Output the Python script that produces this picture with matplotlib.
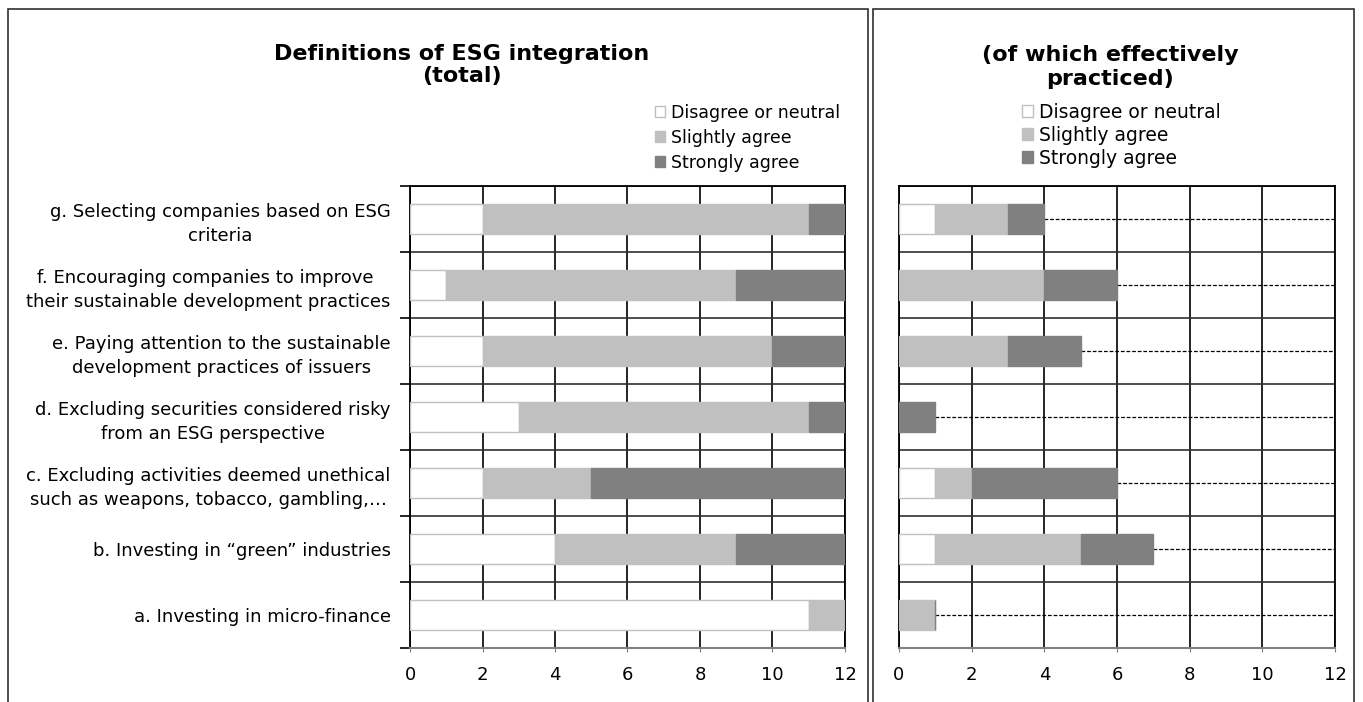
import matplotlib.pyplot as plt
from matplotlib.patches import Rectangle, Patch

# =====================================================
#   data (bottom to top: a .. g)
# =====================================================

categories = [
    "a. Investing in micro-finance",
    "b. Investing in \u201cgreen\u201d industries",
    "c. Excluding activities deemed unethical\nsuch as weapons, tobacco, gambling,\u2026",
    "d. Excluding securities considered risky\nfrom an ESG perspective",
    "e. Paying attention to the sustainable\ndevelopment practices of issuers",
    "f. Encouraging companies to improve \ntheir sustainable development practices",
    "g. Selecting companies based on ESG\ncriteria",
]

series = ["Disagree or neutral", "Slightly agree", "Strongly agree"]

total_disagree = [11, 4, 2, 3, 2, 1, 2]
total_slightly = [1, 5, 3, 8, 8, 8, 9]
total_strongly = [0, 3, 7, 1, 2, 3, 1]

prac_disagree = [0, 1, 1, 0, 0, 0, 1]
prac_slightly = [1, 4, 1, 0, 3, 4, 2]
prac_strongly = [0, 2, 4, 1, 2, 2, 1]

x_ticks = [0, 2, 4, 6, 8, 10, 12]

fill_colors = ["white", "#c0c0c0", "#808080"]
edge_colors = ["#c0c0c0", "#c0c0c0", "#808080"]

W, H = 1363, 702
fig = plt.figure(figsize=(W / 100, H / 100), dpi=100)


def px_rect(x0, y0, x1, y1):
    # pixel box (top-left origin) -> figure fraction rect
    return [x0 / W, 1 - y1 / H, (x1 - x0) / W, (y1 - y0) / H]


# panel frames
for x0, x1 in [(8, 868), (873, 1354)]:
    fig.patches.append(Rectangle((x0 / W, -0.01), (x1 - x0) / W, 1 - 9 / H + 0.01,
                                 transform=fig.transFigure, fill=False,
                                 edgecolor="#303030", linewidth=1.2))


def draw_panel(ax, d, s, t, with_labels, dashed):
    n = len(categories)
    ypos = list(range(n))
    left = [0] * n
    for vals, fc, ec in zip([d, s, t], fill_colors, edge_colors):
        ax.barh(ypos, vals, left=left, height=0.44, color=fc,
                edgecolor=ec, linewidth=1, zorder=3)
        left = [a + b for a, b in zip(left, vals)]

    # dashed leader from bar end to the right edge
    if dashed:
        for y, end in zip(ypos, left):
            ax.plot([end, 12], [y, y], color="black", linestyle=(0, (3, 1.5)),
                    linewidth=0.9, zorder=2)

    ax.set_xlim(0, 12)
    ax.set_ylim(-0.5, n - 0.5)
    ax.set_xticks(x_ticks)
    ax.tick_params(axis="x", labelsize=13, length=3, color="#808080", pad=10)

    # category boundaries as minor ticks/grid
    ax.set_yticks([i - 0.5 for i in range(n + 1)], minor=True)
    ax.set_yticks(ypos)
    if with_labels:
        ax.set_yticklabels(categories, fontsize=13, multialignment="center",
                           linespacing=1.45)
        ax.tick_params(axis="y", which="major", length=0, pad=14)
        ax.tick_params(axis="y", which="minor", length=7, width=1.2, color="black")
    else:
        ax.set_yticklabels([])
        ax.tick_params(axis="y", which="both", length=0)

    ax.grid(axis="x", color="black", linewidth=1.2, zorder=1)
    ax.grid(axis="y", which="minor", color="#303030", linewidth=1.2, zorder=1)
    ax.grid(axis="y", which="major", visible=False)
    ax.set_axisbelow(True)

    for side in ["top", "right", "left"]:
        ax.spines[side].set_color("black")
        ax.spines[side].set_linewidth(1.3)
    ax.spines["bottom"].set_color("#808080")
    ax.spines["bottom"].set_linewidth(1.5)


ax1 = fig.add_axes(px_rect(410, 186, 845, 648))
draw_panel(ax1, total_disagree, total_slightly, total_strongly, True, False)

ax2 = fig.add_axes(px_rect(899, 186, 1335, 648))
draw_panel(ax2, prac_disagree, prac_slightly, prac_strongly, False, True)

# titles
fig.text(462 / W, 1 - 65 / H, "Definitions of ESG integration\n(total)",
         ha="center", va="center", fontsize=16, fontweight="bold", linespacing=1.15)
fig.text(1110 / W, 1 - 67 / H, "(of which effectively\npracticed)",
         ha="center", va="center", fontsize=16, fontweight="bold", linespacing=1.25)

# legends
handles = [Patch(facecolor=fc, edgecolor=ec) for fc, ec in zip(fill_colors, edge_colors)]
fig.legend(handles, series, loc="upper left", bbox_to_anchor=(655 / W, 1 - 104 / H),
           frameon=False, fontsize=12.5, handlelength=0.6, handleheight=0.6,
           handletextpad=0.3, labelspacing=0.4, borderpad=0, borderaxespad=0)
fig.legend(handles, series, loc="upper left", bbox_to_anchor=(1022 / W, 1 - 103 / H),
           frameon=False, fontsize=13.5, handlelength=0.6, handleheight=0.6,
           handletextpad=0.3, labelspacing=0.2, borderpad=0, borderaxespad=0)

plt.savefig("out.png", dpi=100)
plt.close()
